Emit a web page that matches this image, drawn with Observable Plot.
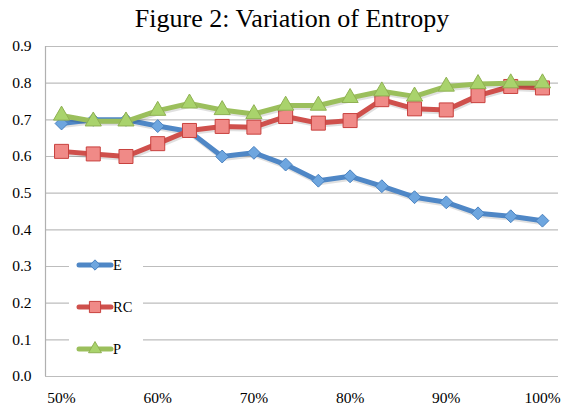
<!DOCTYPE html>
<html>
<head>
<meta charset="utf-8">
<script src="https://cdn.jsdelivr.net/npm/d3@7"></script>
<script src="https://cdn.jsdelivr.net/npm/@observablehq/plot@0.6"></script>
<style>
  body { margin: 0; background: #fff; }
  #wrap { position: relative; width: 568px; height: 407px; overflow: hidden; }
  #title { height: 34px; line-height: 38px; text-align: center; font-family: "Liberation Serif", "Times New Roman", serif; font-size: 26px; color: #000; padding-left: 16px; white-space: nowrap; }
  #legend { position: absolute; left: 69px; top: 250px; width: 74px; height: 115px; background: #fff; }
</style>
</head>
<body>
<div id="wrap">
  <div id="title">Figure 2: Variation of Entropy</div>
  <div id="chart"></div>
  <div id="legend"></div>
</div>
<script>
const xPct = [50, 53.3, 56.7, 60, 63.3, 66.7, 70, 73.3, 76.7, 80, 83.3, 86.7, 90, 93.3, 96.7, 100];
const seriesE  = [0.69, 0.70, 0.70, 0.683, 0.668, 0.60, 0.61, 0.578, 0.534, 0.546, 0.519, 0.489, 0.475, 0.445, 0.437, 0.425];
const seriesRC = [0.614, 0.607, 0.60, 0.635, 0.671, 0.682, 0.68, 0.709, 0.691, 0.698, 0.755, 0.73, 0.727, 0.766, 0.791, 0.787];
const seriesP  = [0.712, 0.696, 0.696, 0.725, 0.745, 0.727, 0.716, 0.739, 0.739, 0.76, 0.778, 0.764, 0.791, 0.798, 0.80, 0.80];
const seriesNames = ["E", "RC", "P"];
const xTicks = [50, 60, 70, 80, 90, 100];
const yTicks = [0, 0.1, 0.2, 0.3, 0.4, 0.5, 0.6, 0.7, 0.8, 0.9];

const styles = {
  E:  {line: "#4f87c6", fill: "#6ea6df", stroke: "#4a82c0", symbol: "diamond2", r: 5.8},
  RC: {line: "#cf504c", fill: "#f08a87", stroke: "#c8413e", symbol: "square", r: 7.9},
  P:  {line: "#9bbf5c", fill: "#a9d36c", stroke: "#8fb152", symbol: "triangle", r: 6}
};

const rows = [];
[seriesE, seriesRC, seriesP].forEach((vals, i) => {
  vals.forEach((v, j) => rows.push({series: seriesNames[i], x: xPct[j], y: v}));
});

const serifStack = "\"Liberation Serif\", \"Times New Roman\", serif";
const marks = [
  Plot.ruleY(yTicks, {stroke: "#bdbdbd", strokeWidth: 1.2}),
  Plot.ruleX([48.333], {stroke: "#b0b0b0", strokeWidth: 1.2}),
  Plot.axisY(yTicks, {tickSize: 0, tickPadding: 14, fill: "#000", label: null}),
  Plot.axisX(xTicks, {tickSize: 0, tickPadding: 15, fill: "#000", label: null, tickFormat: d => d + "%"})
];
for (const name of seriesNames) {
  const s = styles[name];
  const data = rows.filter(d => d.series === name);
  marks.push(Plot.line(data, {x: "x", y: "y", stroke: "#000", strokeOpacity: 0.12, strokeWidth: 5, dx: 1, dy: 2}));
  marks.push(Plot.line(data, {x: "x", y: "y", stroke: s.line, strokeWidth: 5, strokeLinejoin: "round", strokeLinecap: "round"}));
  marks.push(Plot.dot(data, {x: "x", y: "y", symbol: () => s.symbol, r: s.r, fill: s.fill, stroke: s.stroke, strokeWidth: 1}));
}

const chart = Plot.plot({
  width: 568,
  height: 373,
  marginTop: 12,
  marginBottom: 31,
  marginLeft: 45,
  marginRight: 10,
  style: {fontFamily: serifStack, fontSize: "15.5px", overflow: "visible"},
  x: {domain: [48.333, 101.667]},
  y: {domain: [0, 0.9]},
  symbol: {type: "identity"},
  marks
});
d3.select(chart).selectAll("text")
  .attr("font-size", null)
  .style("font-family", serifStack)
  .style("font-size", "15.5px");
d3.select(chart).selectAll("g").attr("font-size", null);
document.getElementById("chart").appendChild(chart);

// legend
const leg = d3.select("#legend").append("svg").attr("width", 74).attr("height", 115);
const symbolMap = {diamond2: d3.symbolDiamond2, square: d3.symbolSquare, triangle: d3.symbolTriangle};
seriesNames.forEach((name, i) => {
  const s = styles[name];
  const cy = 15 + i * 42;
  const g = leg.append("g").attr("transform", `translate(0,${cy})`);
  g.append("line").attr("x1", 10).attr("x2", 42).attr("y1", 0).attr("y2", 0)
    .attr("stroke", s.line).attr("stroke-width", 5).attr("stroke-linecap", "round");
  const size = Math.PI * Math.pow(s.r * 0.8, 2);
  g.append("path").attr("transform", "translate(26,0)")
    .attr("d", d3.symbol(symbolMap[s.symbol], size)())
    .attr("fill", s.fill).attr("stroke", s.stroke).attr("stroke-width", 1);
  g.append("text").attr("x", 44).attr("y", 5).text(name)
    .attr("fill", "#000")
    .style("font-size", "14.5px")
    .style("font-family", serifStack);
});
</script>
</body>
</html>
